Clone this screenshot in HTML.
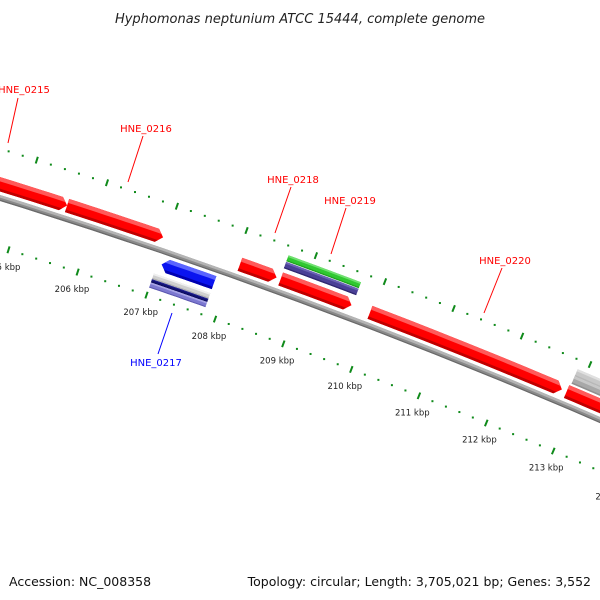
<!DOCTYPE html>
<html><head><meta charset="utf-8">
<style>
html,body{margin:0;padding:0;background:#fff;}
svg{display:block;font-family:"DejaVu Sans","Liberation Sans",sans-serif;}
</style></head>
<body>
<svg id="map" width="600" height="600" viewBox="0 0 600 600" xmlns="http://www.w3.org/2000/svg">
<rect width="600" height="600" fill="#fff"/>
<text x="300" y="23" text-anchor="middle" font-size="13" font-style="italic" fill="#222">Hyphomonas neptunium ATCC 15444, complete genome</text>
<g id="ticks"></g>
<g id="tracks"></g>
<g id="genes"></g>
<g id="labels"></g>
<text x="9" y="586" font-size="12.5" fill="#111">Accession: NC_008358</text>
<text x="591" y="586" text-anchor="end" font-size="12.5" fill="#111">Topology: circular; Length: 3,705,021 bp; Genes: 3,552</text>
</svg>
<script>
// gene data (kbp)
const geneNames=["HNE_0215","HNE_0216","HNE_0217","HNE_0218","HNE_0219","HNE_0220","HNE_0221"];
const geneStart=[204.3,205.58,207.06,208.07,208.66,209.96,212.85];
const geneEnd=[205.58,206.96,207.82,208.60,209.69,212.78,214.6];
const geneStrand=[1,1,-1,1,1,1,1];
// other feature tracks (kbp)
const trackStart=[207.0,207.0,207.0,208.65,208.65,212.87,212.87];
const trackEnd=[207.82,207.82,207.82,209.70,209.70,214.6,214.6];
const trackKind=["grayR","navyR","lavR","purpleF","greenF","grayF2","grayF3"];
// tick labels
const tickKbp=[204,205,206,207,208,209,210,211,212,213,214];
const tickLabels=["204 kbp","205 kbp","206 kbp","207 kbp","208 kbp","209 kbp","210 kbp","211 kbp","212 kbp","213 kbp","214 kbp"];
// gene label text positions (layout)
const labelGene=[0,1,3,4,5,2];

const NS="http://www.w3.org/2000/svg";
const CX=-1802, CY=5989, R0=6065;
function ang(k){return (-71.80+(k-206)*0.6914)*Math.PI/180;}
function pt(k,r){const a=ang(k);return [CX+r*Math.cos(a),CY+r*Math.sin(a)];}
function mk(tag,attrs,parent){const e=document.createElementNS(NS,tag);for(const k in attrs)e.setAttribute(k,attrs[k]);parent.appendChild(e);return e;}
function band(k1,k2,r1,r2){ // polygon points for arc band
  const n=12;let p=[];
  for(let i=0;i<=n;i++)p.push(pt(k1+(k2-k1)*i/n,r2));
  for(let i=n;i>=0;i--)p.push(pt(k1+(k2-k1)*i/n,r1));
  return p.map(q=>q[0].toFixed(1)+","+q[1].toFixed(1)).join(" ");
}
function arrow(k1,k2,r1,r2,dir){
  const h=0.09,n=12;let p=[];const rm=(r1+r2)/2;
  if(dir>0){
    const e=Math.max(k1,k2-h);
    for(let i=0;i<=n;i++)p.push(pt(k1+(e-k1)*i/n,r2));
    p.push(pt(k2,rm));
    for(let i=n;i>=0;i--)p.push(pt(k1+(e-k1)*i/n,r1));
  }else{
    const s=Math.min(k2,k1+h);
    p.push(pt(k1,rm));
    for(let i=0;i<=n;i++)p.push(pt(s+(k2-s)*i/n,r2));
    for(let i=n;i>=0;i--)p.push(pt(s+(k2-s)*i/n,r1));
  }
  return p.map(q=>q[0].toFixed(1)+","+q[1].toFixed(1)).join(" ");
}
const svg=document.getElementById('map');
const defs=mk('defs',{},svg);

// backbone
const bb=document.createElementNS(NS,'g');


svg.insertBefore(bb,document.getElementById('ticks'));
mk('polygon',{points:band(203,215,R0-2.8,R0+2.8),fill:'#8a8a8a'},bb);
mk('polygon',{points:band(203,215,R0+0.3,R0+2.8),fill:'#b4b4b4'},bb);
mk('polygon',{points:band(203,215,R0-2.8,R0-1.6),fill:'#6a6a6a'},bb);

// ticks
const tg=document.getElementById('ticks');
const green="#0f8a1a";
for(let k=203;k<=215.001;k+=0.2){
  const kk=Math.round(k*10)/10;
  const major=Math.abs(kk-Math.round(kk))<0.01;
  [6018,6112].forEach(r=>{
    if(major){
      const a=pt(kk,r-3.5),b=pt(kk,r+3.5);
      const l=mk('line',{x1:a[0],y1:a[1],x2:b[0],y2:b[1],stroke:green,'stroke-width':2},tg);
      
      
    }else{
      const c=pt(kk,r);
      const d=mk('rect',{x:c[0]-1,y:c[1]-1,width:2,height:2,fill:green},tg);
      
      
    }
  });
}
tickKbp.forEach((k,i)=>{
  const c=pt(k,6000);
  const t=mk('text',{x:c[0].toFixed(1),y:(c[1]+3).toFixed(1),'text-anchor':'middle','font-size':'8.5',fill:'#222'},tg);
  t.textContent=tickLabels[i];
  
  
});

// shaded shape helper
let cid=0;
function shaded(parent,pts,base,light,dark,r1,r2,k1,k2,name){
  const id='c'+(cid++);
  const cp=mk('clipPath',{id:id},defs);
  mk('polygon',{points:pts},cp);
  const g=mk('g',{'clip-path':'url(#'+id+')'},parent);
  
  
  const lo=Math.min(r1,r2),hi=Math.max(r1,r2),th=hi-lo;
  mk('polygon',{points:band(k1-0.2,k2+0.2,lo,hi),fill:base},g);
  mk('polygon',{points:band(k1-0.2,k2+0.2,hi-th*0.3,hi),fill:light},g);
  mk('polygon',{points:band(k1-0.2,k2+0.2,lo,lo+th*0.2),fill:dark},g);
}

// genes
const gg=document.getElementById('genes');
geneNames.forEach((n,i)=>{
  const s=geneStrand[i];
  const r1=s>0?R0+6:R0-6, r2=s>0?R0+20:R0-20;
  const lo=Math.min(r1,r2),hi=Math.max(r1,r2);
  const pts=arrow(geneStart[i],geneEnd[i],lo,hi,s);
  if(s>0) shaded(gg,pts,'#f00','#ff5a5a','#c00000',lo,hi,geneStart[i],geneEnd[i],'gene-'+n.toLowerCase());
  else shaded(gg,pts,'#0a14f0','#5a64ff','#0000b0',lo,hi,geneStart[i],geneEnd[i],'gene-'+n.toLowerCase());
});

// other tracks
const kinds={
  grayR:[-30,-24,'#d0d0d0','#f0f0f0','#b0b0b0'],
  navyR:[-33.5,-30,'#101070','#202090','#080850'],
  lavR:[-39,-33.5,'#7c78d0','#a8a4e8','#5c58b0'],
  purpleF:[24,31,'#4a4096','#6a62b4','#302870'],
  greenF:[31.5,38,'#30c830','#70e070','#20a020'],
  grayF2:[22,30,'#a8a8a8','#c8c8c8','#909090'],
  grayF3:[30,38,'#c8c8c8','#e0e0e0','#b8b8b8']
};
const trg=document.getElementById('tracks');
trackKind.forEach((kname,i)=>{
  const k=kinds[kname];
  const lo=R0+k[0],hi=R0+k[1];
  const pts=band(trackStart[i],trackEnd[i],lo,hi);
  shaded(trg,pts,k[2],k[3],k[4],lo,hi,trackStart[i],trackEnd[i],'track-'+kname.toLowerCase());
});

// labels (layout positions)
const lblX=[24,146,293,350,505,156];
const lblY=[93,132,183,204,264,366];
const lnA=[[18,98],[143,136],[291,187],[346,208],[502,268],[172,313]];
const lnB=[[8,143],[128,182],[275,233],[331,254],[484,313],[158,354]];
const lg=document.getElementById('labels');
labelGene.forEach((gi,i)=>{
  const col=geneStrand[gi]>0?'#f00':'#00f';
  const l=mk('line',{x1:lnA[i][0],y1:lnA[i][1],x2:lnB[i][0],y2:lnB[i][1],stroke:col,'stroke-width':1},lg);
  
  
  const t=mk('text',{x:lblX[i],y:lblY[i],'text-anchor':'middle','font-size':'10',fill:col},lg);
  t.textContent=geneNames[gi];
  
  
});
</script>
</body></html>
